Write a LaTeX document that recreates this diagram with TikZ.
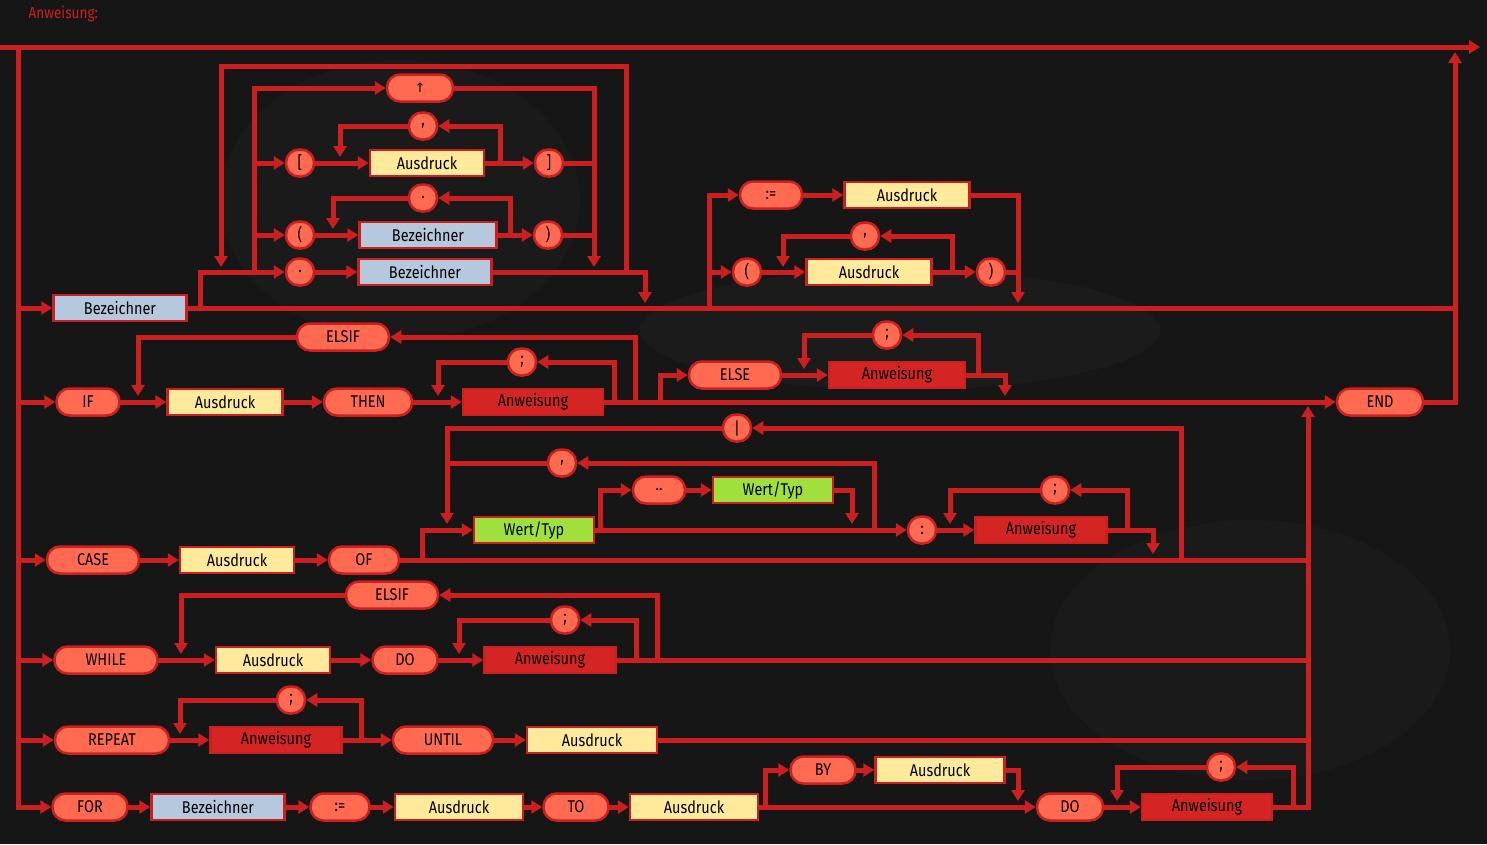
\documentclass[tikz,border=0pt]{standalone}
\usepackage{fontspec}
\setmainfont{Fira Sans}[FakeStretch=0.85]
\newfontfamily\dv{DejaVu Sans}
\usetikzlibrary{arrows.meta}
\definecolor{lnc}{HTML}{CC2020}
\definecolor{tfill}{HTML}{FF6A50}
\definecolor{yel}{HTML}{FFEA9C}
\definecolor{blu}{HTML}{B6C8DE}
\definecolor{grn}{HTML}{A0E03C}
\definecolor{rbox}{HTML}{D42424}
\definecolor{bg}{HTML}{161616}
\tikzset{
 ln/.style={draw=lnc,line width=5pt,line cap=rect,line join=miter},
 arr/.style={ln,-{Triangle[length=11pt 0,width=13pt 0]}},
 term/.style={draw=lnc,line width=2.5pt,fill=tfill,rounded corners=13pt,minimum height=27pt,inner sep=0pt,text=black,font=\fontsize{17}{20}\selectfont},
 box/.style={draw=lnc,line width=2.5pt,minimum height=26pt,inner sep=0pt,text=black,font=\fontsize{17}{20}\selectfont},
}
\newcommand\tm[4]{\node[term,minimum width=#3pt] (#1) at (#2) {#4};}
\newcommand\bx[5]{\node[box,fill=#4,minimum width=#3pt] (#1) at (#2) {#5};}
\begin{document}
\begin{tikzpicture}[x=1pt,y=-1pt]
\fill[bg] (0,0) rectangle (1487,844);
\useasboundingbox (0,0) rectangle (1487,844);
\fill[white,opacity=0.025] (900,330) ellipse (260 and 60);
\fill[white,opacity=0.02] (400,200) ellipse (180 and 140);
\fill[white,opacity=0.02] (1250,650) ellipse (200 and 130);
\node[anchor=west,text=lnc,font=\fontsize{16}{18}\selectfont] (title) at (25,14) {Anweisung:};
% terminals
\tm{up}{420,88}{66}{\dv\fontsize{13}{15}\selectfont ↑}
\tm{comma1}{423,126}{28}{,}
\tm{lb}{300,163}{28}{[}
\tm{rb}{549,163}{28}{]}
\tm{dot1}{423,198}{28}{.}
\tm{lp}{300,235}{28}{(}
\tm{rp}{548,235}{28}{)}
\tm{dot2}{300,272}{28}{.}
\tm{as1}{771,195}{62}{:=}
\tm{lp2}{747,272}{28}{(}
\tm{rp2}{991,272}{28}{)}
\tm{comma2}{865,236}{28}{,}
\tm{ELSIFa}{343,337}{92}{ELSIF}
\tm{semi1}{522,362}{28}{;}
\tm{IF}{88,402}{63}{IF}
\tm{THEN}{368,402}{88}{THEN}
\tm{ELSE}{735,375}{92}{ELSE}
\tm{semi2}{887,335}{28}{;}
\tm{END}{1380,402}{86}{END}
\tm{bar}{737,428}{28}{|}
\tm{comma3}{562,463}{28}{,}
\tm{dotdot}{659,490}{52}{..}
\tm{colon}{922,530}{28}{:}
\tm{semi3}{1055,490}{28}{;}
\tm{CASE}{93,560}{92}{CASE}
\tm{OF}{364,560}{70}{OF}
\tm{ELSIFb}{392,595}{92}{ELSIF}
\tm{semi4}{565,620}{28}{;}
\tm{WHILE}{106,660}{103}{WHILE}
\tm{DOa}{405,660}{65}{DO}
\tm{REPEAT}{112,740}{114}{REPEAT}
\tm{semi5}{291,700}{28}{;}
\tm{UNTIL}{443,740}{100}{UNTIL}
\tm{FOR}{90,807}{75}{FOR}
\tm{as2}{340,807}{59}{:=}
\tm{TO}{576,807}{65}{TO}
\tm{BY}{823,770}{65}{BY}
\tm{DOb}{1070,807}{66}{DO}
\tm{semi6}{1221,767}{28}{;}
% boxes
\bx{bz0}{120,308}{133}{blu}{Bezeichner}
\bx{ad1}{427,163}{114}{yel}{Ausdruck}
\bx{bz1}{428,235}{137}{blu}{Bezeichner}
\bx{bz2}{425,272}{133}{blu}{Bezeichner}
\bx{ad2}{907,195}{125}{yel}{Ausdruck}
\bx{ad3}{869,272}{125}{yel}{Ausdruck}
\bx{ad4}{225,402}{115}{yel}{Ausdruck}
\bx{an1}{533,402}{140}{rbox}{Anweisung}
\bx{an2}{897,375}{136}{rbox}{Anweisung}
\bx{ad5}{237,560}{114}{yel}{Ausdruck}
\bx{wt1}{534,530}{120}{grn}{Wert/Typ}
\bx{wt2}{773,490}{120}{grn}{Wert/Typ}
\bx{an3}{1041,530}{131}{rbox}{Anweisung}
\bx{ad6}{273,660}{114}{yel}{Ausdruck}
\bx{an4}{550,660}{131}{rbox}{Anweisung}
\bx{an5}{276,740}{131}{rbox}{Anweisung}
\bx{ad7}{592,740}{130}{yel}{Ausdruck}
\bx{bz3}{218,807}{133}{blu}{Bezeichner}
\bx{ad8}{459,807}{128}{yel}{Ausdruck}
\bx{ad9}{694,807}{128}{yel}{Ausdruck}
\bx{ad10}{940,770}{129}{yel}{Ausdruck}
\bx{an6}{1207,807}{130}{rbox}{Anweisung}
% connectors
\draw[arr] (0,47) -- (1480,47);
\draw[arr] (18,47) -- (18,807) -- (FOR.west);
\draw[arr] (18,308) -- (bz0.west);
\draw[arr] (18,402) -- (IF.west);
\draw[arr] (18,560) -- (CASE.west);
\draw[arr] (18,660) -- (WHILE.west);
\draw[arr] (18,740) -- (REPEAT.west);
\draw[ln] (bz0.east) -- (1455,308);
\draw[arr] (END.east) -| (1455,52);
% selector
\draw[arr] (200,308) -- (200,272) -- (dot2.west);
\draw[arr] (dot2.east) -- (bz2.west);
\draw[arr] (bz2.east) -- (645,272) -- (645,303);
\draw[ln] (626,272) -- (626,66) -- (221,66);
\draw[arr] (221,66) -- (221,267);
\draw[ln] (254,272) -- (254,88);
\draw[arr] (254,88) -- (up.west);
\draw[arr] (254,163) -- (lb.west);
\draw[arr] (254,235) -- (lp.west);
\draw[ln] (up.east) -- (594,88);
\draw[arr] (594,88) -- (594,267);
\draw[ln] (rb.east) -- (594,163);
\draw[ln] (rp.east) -- (594,235);
\draw[arr] (lb.east) -- (ad1.west);
\draw[arr] (ad1.east) -- (rb.west);
\draw[arr] (500,163) -- (500,126) -- (comma1.east);
\draw[arr] (comma1.west) -- (340,126) -- (340,157);
\draw[arr] (lp.east) -- (bz1.west);
\draw[arr] (bz1.east) -- (rp.west);
\draw[arr] (510,235) -- (510,198) -- (dot1.east);
\draw[arr] (dot1.west) -- (333,198) -- (333,229);
% assignment
\draw[ln] (709,308) -- (709,195);
\draw[arr] (709,195) -- (as1.west);
\draw[arr] (as1.east) -- (ad2.west);
\draw[arr] (ad2.east) -- (1018,195) -- (1018,303);
\draw[arr] (709,272) -- (lp2.west);
\draw[arr] (lp2.east) -- (ad3.west);
\draw[arr] (ad3.east) -- (rp2.west);
\draw[ln] (rp2.east) -- (1018,272);
\draw[arr] (952,272) -- (952,236) -- (comma2.east);
\draw[arr] (comma2.west) -- (783,236) -- (783,267);
% IF
\draw[arr] (IF.east) -- (ad4.west);
\draw[arr] (ad4.east) -- (THEN.west);
\draw[arr] (THEN.east) -- (an1.west);
\draw[arr] (an1.east) -- (END.west);
\draw[arr] (635,402) -- (635,337) -- (ELSIFa.east);
\draw[arr] (ELSIFa.west) -- (138,337) -- (138,396);
\draw[arr] (614,402) -- (614,362) -- (semi1.east);
\draw[arr] (semi1.west) -- (438,362) -- (438,396);
\draw[arr] (660,402) -- (660,375) -- (ELSE.west);
\draw[arr] (ELSE.east) -- (an2.west);
\draw[arr] (an2.east) -- (1005,375) -- (1005,396);
\draw[arr] (978,375) -- (978,335) -- (semi2.east);
\draw[arr] (semi2.west) -- (804,335) -- (804,369);
\draw[arr] (1308,807) -- (1308,406);
% CASE
\draw[arr] (CASE.east) -- (ad5.west);
\draw[arr] (ad5.east) -- (OF.west);
\draw[ln] (OF.east) -- (1308,560);
\draw[arr] (422,560) -- (422,530) -- (wt1.west);
\draw[arr] (wt1.east) -- (colon.west);
\draw[arr] (colon.east) -- (an3.west);
\draw[arr] (an3.east) -- (1153,530) -- (1153,554);
\draw[arr] (1127,530) -- (1127,490) -- (semi3.east);
\draw[arr] (semi3.west) -- (950,490) -- (950,524);
\draw[arr] (600,530) -- (600,490) -- (dotdot.west);
\draw[arr] (dotdot.east) -- (wt2.west);
\draw[arr] (wt2.east) -- (852,490) -- (852,524);
\draw[arr] (874,530) -- (874,463) -- (comma3.east);
\draw[ln] (comma3.west) -- (447,463);
\draw[arr] (1181,560) -- (1181,428) -- (bar.east);
\draw[arr] (bar.west) -- (447,428) -- (447,524);
% WHILE
\draw[arr] (WHILE.east) -- (ad6.west);
\draw[arr] (ad6.east) -- (DOa.west);
\draw[arr] (DOa.east) -- (an4.west);
\draw[ln] (an4.east) -- (1308,660);
\draw[arr] (657,660) -- (657,595) -- (ELSIFb.east);
\draw[arr] (ELSIFb.west) -- (181,595) -- (181,654);
\draw[arr] (636,660) -- (636,620) -- (semi4.east);
\draw[arr] (semi4.west) -- (459,620) -- (459,654);
% REPEAT
\draw[arr] (REPEAT.east) -- (an5.west);
\draw[arr] (an5.east) -- (UNTIL.west);
\draw[arr] (UNTIL.east) -- (ad7.west);
\draw[ln] (ad7.east) -- (1308,740);
\draw[arr] (361,740) -- (361,700) -- (semi5.east);
\draw[arr] (semi5.west) -- (180,700) -- (180,734);
% FOR
\draw[arr] (FOR.east) -- (bz3.west);
\draw[arr] (bz3.east) -- (as2.west);
\draw[arr] (as2.east) -- (ad8.west);
\draw[arr] (ad8.east) -- (TO.west);
\draw[arr] (TO.east) -- (ad9.west);
\draw[arr] (ad9.east) -- (DOb.west);
\draw[arr] (765,807) -- (765,770) -- (BY.west);
\draw[arr] (BY.east) -- (ad10.west);
\draw[arr] (ad10.east) -- (1018,770) -- (1018,801);
\draw[arr] (DOb.east) -- (an6.west);
\draw[ln] (an6.east) -- (1308,807);
\draw[arr] (1293,807) -- (1293,767) -- (semi6.east);
\draw[arr] (semi6.west) -- (1117,767) -- (1117,801);
\end{tikzpicture}
\end{document}
